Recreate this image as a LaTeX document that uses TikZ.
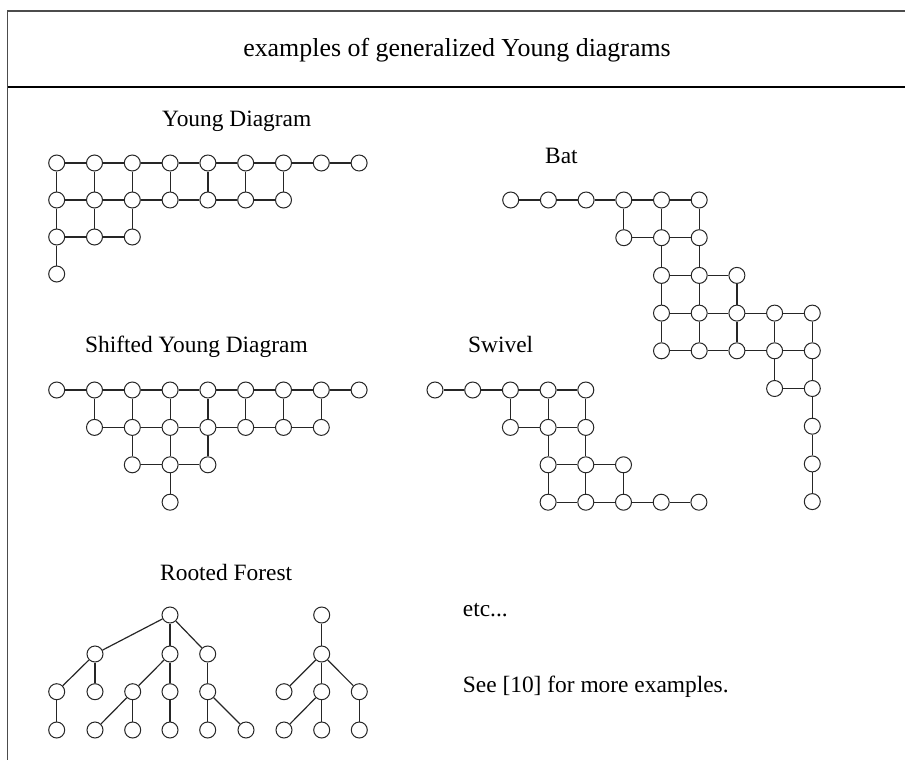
\documentclass[tikz,border=0pt]{standalone}
\usepackage{fontspec}
\setmainfont{Liberation Serif}
\tikzset{
  vtx/.style={circle, draw=black!85, fill=white, minimum size=16pt, inner sep=0pt, line width=1pt},
  lnk/.style={draw=black!85, line width=1.2pt},
  lbl/.style={font=\fontsize{23.4}{28}\selectfont, inner sep=0pt, anchor=base west},
  ttl/.style={font=\fontsize{25.9}{30}\selectfont, inner sep=0pt, anchor=base},
  frm/.style={draw=black!70, line width=1.5pt},
}
% #1 name, #2 x0, #3 y0, #4 dx, #5 dy, #6 rows r/a/b, #7 verticals r/a/b
\newcommand\mygrid[7]{%
  \foreach \r/\a/\b in {#6} {%
    \foreach \c in {\a,...,\b} {%
      \node[vtx] (#1-\r-\c) at ({#2+\c*#4},{#3+\r*#5}) {};
    }%
  }%
  \foreach \r/\a/\b in {#6} {%
    \foreach \c in {\a,...,\b} {%
      \pgfmathtruncatemacro\cn{\c+1}%
      \ifnum\c<\b\relax \draw[lnk] (#1-\r-\c) -- (#1-\r-\cn);\fi
    }%
  }%
  \foreach \r/\a/\b in {#7} {%
    \pgfmathtruncatemacro\rn{\r+1}%
    \foreach \c in {\a,...,\b} {%
      \draw[lnk] (#1-\r-\c) -- (#1-\rn-\c);
    }%
  }%
}
\begin{document}
\begin{tikzpicture}[x=1pt,y=-1pt]
\useasboundingbox (0,0) rectangle (905,760);
% frame
\draw[frm] (7.5,760) -- (7.5,11) -- (905,11);
\draw[draw=black, line width=2.7pt] (7.5,87) -- (905,87);
\node[ttl] (title) at (457,56.7) {examples of generalized Young diagrams};

% labels
\node[lbl] (lY) at (162,126) {Young Diagram};
\node[lbl] (lB) at (545,163.3) {Bat};
\node[lbl] (lS) at (85,352) {Shifted Young Diagram};
\node[lbl] (lW) at (468,352) {Swivel};
\node[lbl] (lR) at (160,580) {Rooted Forest};
\node[lbl] (etc) at (462.7,616.7) {etc...};
\node[lbl] (see) at (462.7,692.7) {See [10] for more examples.};

% Young diagram
\mygrid{Y}{56.7}{163}{37.8}{37}{0/0/8,1/0/6,2/0/2,3/0/0}{0/0/6,1/0/2,2/0/0}
% Shifted Young diagram
\mygrid{S}{56.7}{390}{37.8}{37.4}{0/0/8,1/1/7,2/2/4,3/3/3}{0/1/7,1/2/4,2/3/3}
% Bat
\mygrid{B}{510.7}{200}{37.7}{37.7}{0/0/5,1/3/5,2/4/6,3/4/8,4/4/8,5/7/8,6/8/8,7/8/8,8/8/8}{0/3/5,1/4/5,2/4/6,3/4/8,4/7/8,5/8/8,6/8/8,7/8/8}
% Swivel
\mygrid{W}{435}{390}{37.7}{37.4}{0/0/4,1/2/4,2/3/5,3/3/7}{0/2/4,1/3/4,2/3/5}

% Rooted forest, tree 1
\node[vtx] (t1r) at (170,615) {};
\node[vtx] (t1a) at (95,654) {};
\node[vtx] (t1b) at (170,654) {};
\node[vtx] (t1c) at (207.7,654) {};
\node[vtx] (t1aa) at (56.7,691.7) {};
\node[vtx] (t1ab) at (95,691.7) {};
\node[vtx] (t1ba) at (132.7,691.7) {};
\node[vtx] (t1bb) at (170,691.7) {};
\node[vtx] (t1ca) at (207.7,691.7) {};
\node[vtx] (t1aaa) at (56.7,730) {};
\node[vtx] (t1baa) at (95,730) {};
\node[vtx] (t1bab) at (132.7,730) {};
\node[vtx] (t1bba) at (170,730) {};
\node[vtx] (t1caa) at (207.7,730) {};
\node[vtx] (t1cab) at (246,730) {};
\draw[lnk] (t1r) -- (t1a); \draw[lnk] (t1r) -- (t1b); \draw[lnk] (t1r) -- (t1c);
\draw[lnk] (t1a) -- (t1aa); \draw[lnk] (t1a) -- (t1ab);
\draw[lnk] (t1b) -- (t1ba); \draw[lnk] (t1b) -- (t1bb);
\draw[lnk] (t1c) -- (t1ca);
\draw[lnk] (t1aa) -- (t1aaa);
\draw[lnk] (t1ba) -- (t1baa); \draw[lnk] (t1ba) -- (t1bab);
\draw[lnk] (t1bb) -- (t1bba);
\draw[lnk] (t1ca) -- (t1caa); \draw[lnk] (t1ca) -- (t1cab);

% tree 2
\node[vtx] (t2r) at (321.7,615) {};
\node[vtx] (t2a) at (321.7,654) {};
\node[vtx] (t2aa) at (284,691.7) {};
\node[vtx] (t2ab) at (321.7,691.7) {};
\node[vtx] (t2ac) at (359.3,691.7) {};
\node[vtx] (t2aba) at (284,730) {};
\node[vtx] (t2abb) at (321.7,730) {};
\node[vtx] (t2aca) at (359.3,730) {};
\draw[lnk] (t2r) -- (t2a);
\draw[lnk] (t2a) -- (t2aa); \draw[lnk] (t2a) -- (t2ab); \draw[lnk] (t2a) -- (t2ac);
\draw[lnk] (t2ab) -- (t2aba); \draw[lnk] (t2ab) -- (t2abb);
\draw[lnk] (t2ac) -- (t2aca);
\end{tikzpicture}
\end{document}
